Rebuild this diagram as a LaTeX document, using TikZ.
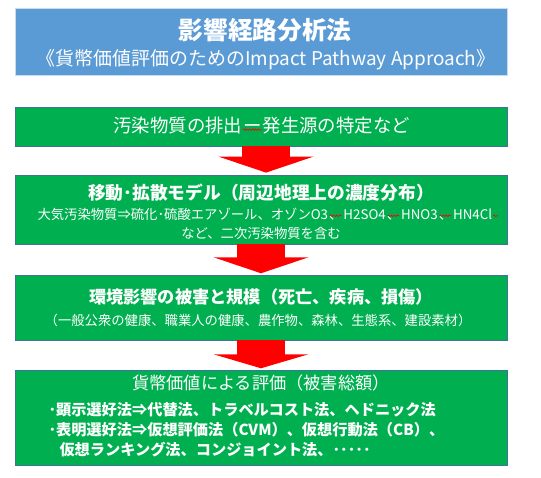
\documentclass[tikz,border=0pt]{standalone}
\usepackage{fontspec}
\setmainfont{Noto Sans CJK JP}
\usetikzlibrary{arrows.meta,decorations.pathmorphing}
\tikzset{every picture/.style={line width=0.75pt}}
\definecolor{hdblue}{RGB}{91,155,213}
\definecolor{boxgreen}{RGB}{0,176,80}
\definecolor{boxline}{RGB}{65,113,156}
\tikzset{
  stagebox/.style={draw=boxline, line width=0.6pt, fill=boxgreen, minimum width=369pt, inner sep=0pt},
  txt/.style={text=white, inner sep=0.75pt},
  seg/.style={text=white, inner sep=0pt, anchor=base west},
  flowarrow/.style={draw=red, line width=35.5pt, -{Triangle[width=71pt,length=12pt]}},
  spellmark/.style={red, line width=0.5pt, decorate, decoration={snake, amplitude=0.55pt, segment length=2.2pt}}
}

\begin{document}
\begin{tikzpicture}[x=0.75pt,y=0.75pt,yscale=-1,xscale=1]
\useasboundingbox (0,0) rectangle (541,477);

%Shape: Rectangle [id:title]
\node [draw={rgb,255:red,200;green,220;blue,240}, line width=0.6pt, fill=hdblue, minimum width=369pt, minimum height=50.25pt] (hd) at (261,41.5) {};
%Shape: Rectangle [id:emission]
\node [stagebox, minimum height=29.25pt] (emit) at (261,126.5) {};
%Shape: Rectangle [id:dispersion]
\node [stagebox, minimum height=51.75pt] (disp) at (261,209.5) {};
%Shape: Rectangle [id:impact]
\node [stagebox, minimum height=48.75pt] (imp) at (261,307.5) {};
%Shape: Rectangle [id:valuation]
\node [stagebox, minimum height=71.25pt] (val) at (261,417.5) {};

%Block Arrows
\draw [flowarrow] ([xshift=3.75pt]emit.south) -- ([xshift=3.75pt,yshift=-1.5pt]disp.north) ;
\draw [flowarrow] (disp.south) -- ([yshift=-1pt]imp.north) ;
\draw [flowarrow, -{Triangle[width=71pt,length=10.5pt]}] (imp.south) -- ([yshift=-1pt]val.north) ;

% Text Node
\node [txt, font=\fontsize{18.5pt}{20pt}\selectfont\bfseries] (hd1) at (265,30) {影響経路分析法};
% Text Node
\node [txt, font=\fontsize{14.2pt}{16pt}\selectfont] (hd2) at (266,60) {《貨幣価値評価のためのImpact Pathway Approach》};
% Text Node (split for the spell mark)
\begin{scope}[font=\fontsize{13.8pt}{15pt}\selectfont]
\node [seg, anchor=west] (em1) at (113,126) {汚染物質の排出};
\node [seg] (em2) at (em1.base east) {ー};
\node [seg] (em3) at (em2.base east) {発生源の特定など};
\end{scope}
% Text Node
\node [txt, font=\fontsize{13.3pt}{15pt}\selectfont\bfseries] (disp1) at (261,193) {移動･拡散モデル（周辺地理上の濃度分布）};
% Text Node (split for the spell marks)
\begin{scope}[font=\fontsize{10pt}{12pt}\selectfont]
\node [seg, anchor=west] (dp1) at (37,214) {大気汚染物質⇒硫化･硫酸エアゾール、オゾンO3};
\node [seg] (dp2) at (dp1.base east) {、};
\node [seg] (dp3) at (dp2.base east) {H2SO4};
\node [seg] (dp4) at (dp3.base east) {、};
\node [seg] (dp5) at (dp4.base east) {HNO3};
\node [seg] (dp6) at (dp5.base east) {、};
\node [seg] (dp7) at (dp6.base east) {HN4Cl};
\end{scope}
% Text Node
\node [txt, font=\fontsize{10pt}{12pt}\selectfont] (disp3) at (261,233) {など、二次汚染物質を含む};
% Text Node
\node [txt, font=\fontsize{12.9pt}{15pt}\selectfont\bfseries] (imp1) at (261,297) {環境影響の被害と規模（死亡、疾病、損傷）};
% Text Node
\node [txt, font=\fontsize{10pt}{12pt}\selectfont] (imp2) at (258,320) {（一般公衆の健康、職業人の健康、農作物、森林、生態系、建設素材）};
% Text Node
\node [txt, font=\fontsize{12.9pt}{15pt}\selectfont] (val1) at (261,383) {貨幣価値による評価（被害総額）};
% Text Node
\node [txt, anchor=west, font=\fontsize{11.4pt}{13pt}\selectfont\bfseries] (val2) at (47,410) {･顕示選好法⇒代替法、トラベルコスト法、ヘドニック法};
% Text Node
\node [txt, anchor=west, font=\fontsize{11.4pt}{13pt}\selectfont\bfseries] (val3) at (47,430) {･表明選好法⇒仮想評価法（CVM）、仮想行動法（CB）、};
% Text Node
\node [txt, anchor=west, font=\fontsize{11.4pt}{13pt}\selectfont\bfseries] (val4) at (58,450) {仮想ランキング法、コンジョイント法、･････};

%Spell-check marks
\draw [spellmark] ([yshift=-2.5pt]em2.base west) -- ([yshift=-2.5pt]em2.base east) ;
\foreach \m in {dp2, dp4, dp6}
  \draw [spellmark] ([xshift=1pt,yshift=-2.5pt]\m.base west) -- ([xshift=-1pt,yshift=-2.5pt]\m.base east) ;
\draw [spellmark] ([xshift=0.5pt,yshift=-2.5pt]dp7.base east) -- ([xshift=4pt,yshift=-2.5pt]dp7.base east) ;

\end{tikzpicture}
\end{document}
